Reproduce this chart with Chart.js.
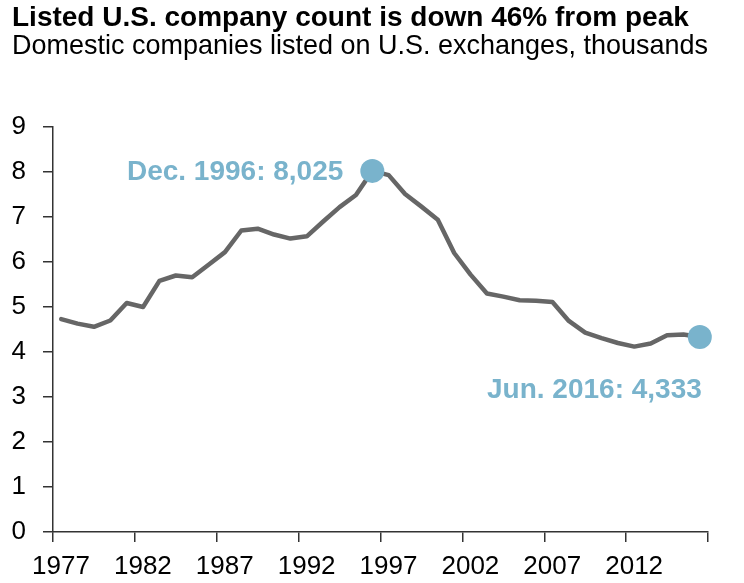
<!DOCTYPE html>
<html>
<head>
<meta charset="utf-8">
<script src="https://cdn.jsdelivr.net/npm/chart.js@4.4.1/dist/chart.umd.min.js"></script>
<style>
  html, body { margin: 0; padding: 0; background: #fff; }
  #wrap { width: 744px; height: 583px; }
</style>
</head>
<body>
<div id="wrap"><canvas id="c" width="744" height="583"></canvas></div>
<script>
// ---- data ----
const years = [1977,1978,1979,1980,1981,1982,1983,1984,1985,1986,1987,1988,1989,1990,1991,1992,1993,1994,1995,1996,
               1997,1998,1999,2000,2001,2002,2003,2004,2005,2006,2007,2008,2009,2010,2011,2012,2013,2014,2015,2016];
const companies = [4.73,4.63,4.56,4.70,5.09,5.00,5.58,5.70,5.66,5.94,6.22,6.70,6.74,6.61,6.52,6.57,6.90,7.22,7.49,8.025,
                   7.93,7.51,7.23,6.94,6.20,5.72,5.30,5.23,5.15,5.14,5.11,4.69,4.43,4.31,4.20,4.12,4.19,4.37,4.39,4.333];
const highlightYears = [1996, 2016];
const highlightValues = [8.025, 4.333];
const highlightLabels = ["Dec. 1996: 8,025", "Jun. 2016: 4,333"];
const xTickYears = [1977,1982,1987,1992,1997,2002,2007,2012,2017];
const xTickLabels = ["1977","1982","1987","1992","1997","2002","2007","2012",""];
const titleText = "Listed U.S. company count is down 46% from peak";
const subtitleText = "Domestic companies listed on U.S. exchanges, thousands";

const FONT = '"Liberation Sans", Arial, Helvetica, sans-serif';
const BLUE = '#79b3cc';
const LINE = '#666666';
const AXIS = '#333333';

const annotationPlugin = {
  id: 'highlightLabels',
  afterDatasetsDraw(chart) {
    const {ctx, scales} = chart;
    ctx.save();
    ctx.font = 'bold 28px ' + FONT;
    ctx.fillStyle = BLUE;
    ctx.textBaseline = 'middle';
    ctx.textAlign = 'right';
    // peak label: left of the dot
    let x0 = scales.x.getPixelForValue(highlightYears[0] + 0.5);
    let y0 = scales.y.getPixelForValue(highlightValues[0]);
    ctx.fillText(highlightLabels[0], x0 - 29, y0 + 1);
    // latest label: below the dot
    let x1 = scales.x.getPixelForValue(highlightYears[1] + 0.5);
    let y1 = scales.y.getPixelForValue(highlightValues[1]);
    ctx.fillText(highlightLabels[1], x1 + 2, y1 + 53);
    ctx.restore();
  }
};

new Chart(document.getElementById('c'), {
  type: 'line',
  data: {
    datasets: [
      {
        data: highlightYears.map((y, i) => ({x: y + 0.5, y: highlightValues[i]})),
        showLine: false,
        pointRadius: 12,
        pointHoverRadius: 12,
        pointBackgroundColor: BLUE,
        pointBorderWidth: 0,
        clip: false,
        order: 0
      },
      {
        data: years.map((y, i) => ({x: y + 0.5, y: companies[i]})),
        borderColor: LINE,
        borderWidth: 4.5,
        pointRadius: 0,
        tension: 0,
        borderJoinStyle: 'round',
        borderCapStyle: 'round',
        fill: false,
        order: 1
      }
    ]
  },
  options: {
    responsive: false,
    animation: false,
    events: [],
    layout: { padding: { left: 12, right: 36, top: 0, bottom: 0 } },
    plugins: {
      legend: { display: false },
      tooltip: { enabled: false },
      title: {
        display: true, text: titleText, align: 'start', color: '#000',
        font: { family: FONT, size: 28, weight: 'bold', lineHeight: 1.0 },
        padding: { top: 4, bottom: 0 }
      },
      subtitle: {
        display: true, text: subtitleText, align: 'start', color: '#000',
        font: { family: FONT, size: 28, weight: 'normal', lineHeight: 1.0 },
        padding: { top: 0, bottom: 67 }
      }
    },
    scales: {
      x: {
        type: 'linear',
        min: 1977, max: 2017,
        afterBuildTicks(scale) { scale.ticks = xTickYears.map(v => ({value: v})); },
        afterFit(scale) { scale.height = 51; },
        ticks: {
          autoSkip: false, maxRotation: 0, color: '#000',
          font: { family: FONT, size: 26 },
          padding: 9, labelOffset: 8,
          callback: (v, i) => xTickLabels[i]
        },
        grid: { drawOnChartArea: false, drawTicks: true, tickLength: 10, color: AXIS, lineWidth: 1.5 },
        border: { display: true, color: AXIS, width: 1.5 }
      },
      y: {
        min: 0, max: 9,
        afterFit(scale) { scale.width = 41; },
        ticks: { stepSize: 1, color: '#000', font: { family: FONT, size: 26 }, padding: 17 },
        grid: { drawOnChartArea: false, drawTicks: true, tickLength: 10, color: AXIS, lineWidth: 1.5 },
        border: { display: true, color: AXIS, width: 1.5 }
      }
    }
  },
  plugins: [annotationPlugin]
});
</script>
</body>
</html>
